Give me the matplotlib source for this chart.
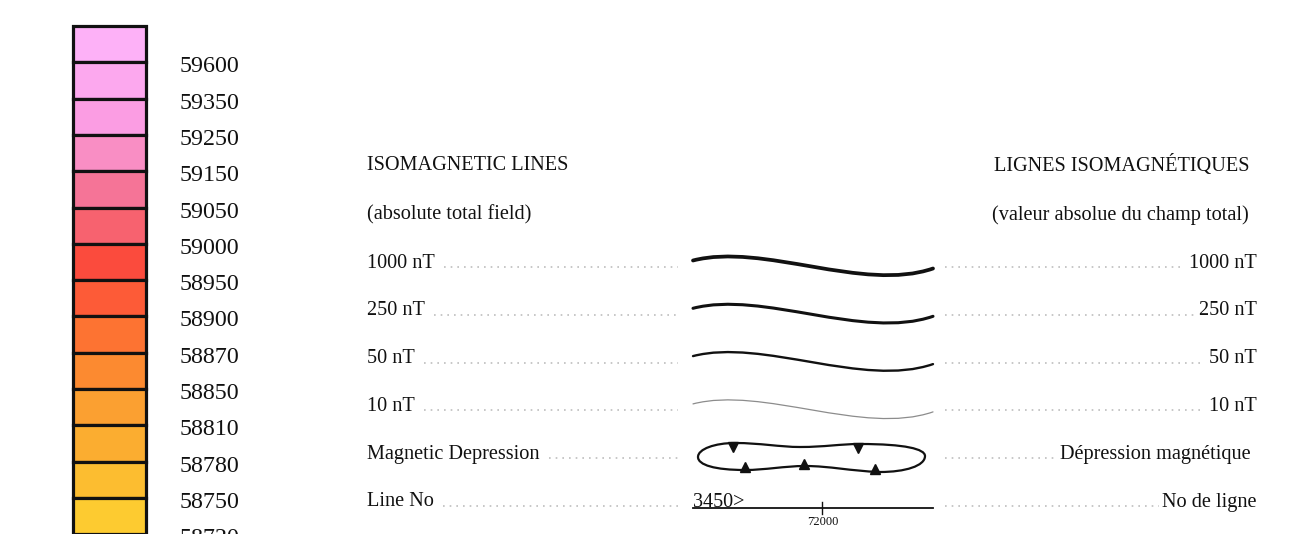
import matplotlib

matplotlib.use("Agg")
import matplotlib.pyplot as plt
from matplotlib.path import Path
from matplotlib.patches import PathPatch

plt.rcParams["font.family"] = ["Liberation Serif", "DejaVu Serif"]

# colour scale (top to bottom)
SCALE_LABELS = ["59600", "59350", "59250", "59150", "59050", "59000", "58950",
                "58900", "58870", "58850", "58810", "58780", "58750", "58720"]
SCALE_COLORS = ["#fdb1f7", "#fca8ee", "#fb9de3", "#f98ec4", "#f57497", "#f7626f",
                "#fb4b3d", "#fd5b37", "#fd7332", "#fc8a30", "#fba031", "#fbad30",
                "#fcbd30", "#fdcb30"]

# legend rows
LEFT_HEADERS = ["ISOMAGNETIC LINES", "(absolute total field)"]
RIGHT_HEADERS = ["LIGNES ISOMAGNÉTIQUES", "(valeur absolue du champ total)"]
LEFT_ROWS = ["1000 nT", "250 nT", "50 nT", "10 nT", "Magnetic Depression", "Line No"]
RIGHT_ROWS = ["1000 nT", "250 nT", "50 nT", "10 nT", "Dépression magnétique", "No de ligne"]
LINE_WIDTHS = [2.7, 2.2, 1.7, 0.9]
LINE_COLORS = ["#111111", "#111111", "#111111", "#8c8c8c"]
LINE_NUMBER = "3450>"
FIDUCIAL = "72000"

W, H = 1296, 534
fig = plt.figure(figsize=(W / 100, H / 100), dpi=100)
ax = fig.add_axes([0, 0, 1, 1])
ax.set_xlim(0, W)
ax.set_ylim(H, 0)
ax.axis("off")

# colour bar
box_top, box_h = 26, 36.3
tops = [box_top + i * box_h for i in range(len(SCALE_COLORS))]
ax.bar([109] * len(tops), [box_h] * len(tops), bottom=tops, width=73,
       color=SCALE_COLORS, edgecolor="#111111", linewidth=2.3, zorder=2)
for i, lab in enumerate(SCALE_LABELS):
    ax.text(180, tops[i] + box_h + 4.5, lab, fontsize=17.3, ha="left", va="center",
            color="#111111")

fs = 14.6
row_y0, row_dy = 263, 47.8
row_ys = [row_y0 + i * row_dy for i in range(len(LEFT_ROWS))]

for i, (l, r) in enumerate(zip(LEFT_HEADERS, RIGHT_HEADERS)):
    y = 166 + i * 49
    ax.text(367, y, l, fontsize=fs, ha="left", va="center", color="#111111")
    ax.text(1249, y, r, fontsize=fs, ha="right", va="center", color="#111111")

fig.canvas.draw()
renderer = fig.canvas.get_renderer()
inv = ax.transData.inverted()
leader = dict(color="#bdbdbd", linewidth=1.2, linestyle=(0, (1.0, 3.0)))

for i, (l, r) in enumerate(zip(LEFT_ROWS, RIGHT_ROWS)):
    y = row_ys[i]
    right_x = 1251 if i == 4 else 1257
    tl = ax.text(367, y, l, fontsize=fs, ha="left", va="center", color="#111111")
    tr = ax.text(right_x, y, r, fontsize=fs, ha="right", va="center", color="#111111")
    bl = tl.get_window_extent(renderer)
    br = tr.get_window_extent(renderer)
    x_end_left = inv.transform((bl.x1, 0))[0]
    x_start_right = inv.transform((br.x0, 0))[0]
    ly = y + 4
    ax.plot([x_end_left + 9, 678], [ly, ly], **leader)
    ax.plot([945, x_start_right - 4], [ly, ly], **leader)

# isomagnetic line samples
wave_dx = [0, 70, 170, 240]
wave_dy = [0, -18, 32, 8]
for i, (lw, c) in enumerate(zip(LINE_WIDTHS, LINE_COLORS)):
    y = row_ys[i] - 2.5
    verts = [(693 + dx, y + dy) for dx, dy in zip(wave_dx, wave_dy)]
    path = Path(verts, [Path.MOVETO, Path.CURVE4, Path.CURVE4, Path.CURVE4])
    ax.add_patch(PathPatch(path, fill=False, edgecolor=c, linewidth=lw,
                           capstyle="round"))

# magnetic depression
dep = [(698, 457),
       (698, 449), (715, 443), (735, 443),
       (760, 443), (780, 447), (800, 447),
       (825, 447), (840, 444), (860, 444),
       (905, 444), (925, 449), (925, 456),
       (925, 466), (905, 472), (880, 472),
       (850, 471), (830, 466), (805, 466),
       (785, 466), (765, 470), (745, 470),
       (715, 470), (698, 465), (698, 457)]
codes = [Path.MOVETO] + [Path.CURVE4] * 24
ax.add_patch(PathPatch(Path(dep, codes), fill=False, edgecolor="#111111",
                       linewidth=1.6))
ax.plot([733, 858], [446.5, 447.5], linestyle="none", marker="v",
        markersize=6.5, color="#111111")
ax.plot([745, 804, 875], [466.5, 463.5, 468.5], linestyle="none", marker="^",
        markersize=6.5, color="#111111")

# line number sample
ly = 508
ax.plot([693, 933], [ly, ly], color="#111111", linewidth=1.3)
ax.plot([822, 822], [502, 514], color="#111111", linewidth=1.0)
ax.text(693, ly - 1, LINE_NUMBER, fontsize=14.5, ha="left", va="baseline",
        color="#111111")
ax.text(823, 522, FIDUCIAL, fontsize=9, ha="center", va="center", color="#111111")

fig.savefig("out.png", dpi=100)
